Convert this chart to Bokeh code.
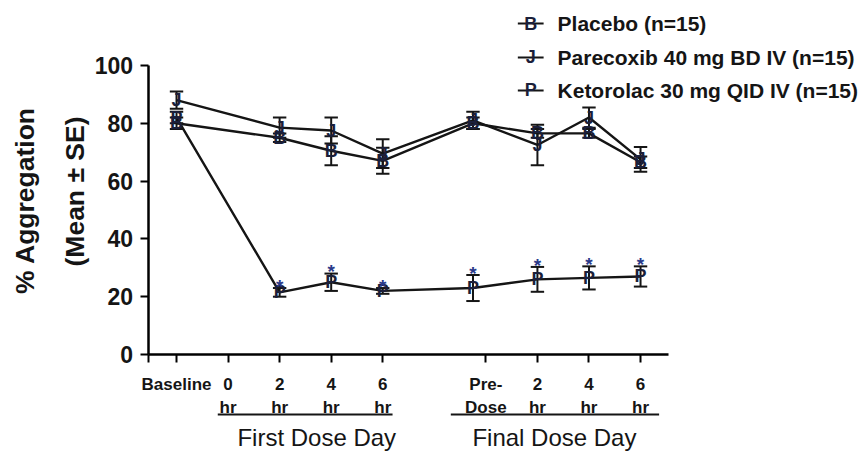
import numpy as np
from bokeh.plotting import figure
from bokeh.models import Range1d, LinearAxis, FixedTicker, Label
from bokeh.core.properties import value
from bokeh.embed import file_html
from bokeh.resources import INLINE

# ---------------- data ----------------
tick_positions = [0, 1, 2, 3, 4, 6, 7, 8, 9]
tick_labels = ["Baseline", "0\nhr", "2\nhr", "4\nhr", "6\nhr", "Pre-\nDose", "2\nhr", "4\nhr", "6\nhr"]
time_x = [0, 2, 3, 4, 5.75, 7, 8, 9]

placebo_mean = [80, 75, 70.5, 67, 80, 76.5, 76.5, 66.5]
placebo_se = [2, 1.5, 5, 4.5, 2, 1.5, 1.5, 2]
parecoxib_mean = [88, 78.5, 77.5, 69.5, 81, 72.5, 82, 67.5]
parecoxib_se = [3, 3.5, 4.5, 5, 3, 7, 3.5, 4.3]
ketorolac_mean = [82, 21.5, 25, 22, 23, 26, 26.5, 27]
ketorolac_se = [2, 1.5, 3, 1, 4.5, 4.3, 4, 3.5]
ketorolac_signif = [False, True, True, True, True, True, True, True]

series_names = ["Placebo (n=15)", "Parecoxib 40 mg BD IV (n=15)", "Ketorolac 30 mg QID IV (n=15)"]
series_symbols = ["B", "J", "P"]

y_ticks = [0, 20, 40, 60, 80, 100]
group_names = ["First Dose Day", "Final Dose Day"]
group_spans = [(0.8, 4.19), (5.32, 9.36)]
group_centers = [2.72, 7.33]

y_title = "% Aggregation"
y_subtitle = "(Mean \u00b1 SE)"

# ---------------- figure ----------------
FONT = value("Liberation Sans")
INK = "#151515"
MARK = "#1b1f3a"

p = figure(width=862, height=452, output_backend="svg", toolbar_location=None,
           x_range=Range1d(-3.414, 13.305), y_range=Range1d(-33.91, 122.49),
           x_axis_type=None, y_axis_type=None, min_border=0,
           outline_line_color=None, background_fill_color="white")
p.grid.visible = False

# axes
yaxis = LinearAxis(fixed_location=-0.55, bounds=(0, 100), ticker=FixedTicker(ticks=y_ticks))
yaxis.major_label_text_font = "Liberation Sans"
yaxis.major_label_text_font_size = "23px"
yaxis.major_label_text_font_style = "bold"
yaxis.major_label_text_color = INK
yaxis.major_tick_out = 8
yaxis.major_tick_in = 0
yaxis.minor_tick_out = 0
yaxis.minor_tick_in = 0
yaxis.major_tick_line_width = 2
yaxis.axis_line_width = 2.5
yaxis.major_label_standoff = 7
p.add_layout(yaxis, "left")

xaxis = LinearAxis(fixed_location=0, bounds=(-0.55, 9.55),
                   ticker=FixedTicker(ticks=[-0.55] + tick_positions))
overrides = {-0.55: ""}
for t, lab in zip(tick_positions, tick_labels):
    overrides[t] = lab
xaxis.major_label_overrides = overrides
xaxis.major_label_text_font = "Liberation Sans"
xaxis.major_label_text_font_size = "17px"
xaxis.major_label_text_font_style = "bold"
xaxis.major_label_text_color = INK
xaxis.major_tick_out = 8
xaxis.major_tick_in = 0
xaxis.minor_tick_out = 0
xaxis.minor_tick_in = 0
xaxis.major_tick_line_width = 2
xaxis.axis_line_width = 2.5
xaxis.major_label_standoff = 13
p.add_layout(xaxis, "below")

# series
x = np.array(time_x, dtype=float)
series = [
    (np.array(placebo_mean), np.array(placebo_se)),
    (np.array(parecoxib_mean), np.array(parecoxib_se)),
    (np.array(ketorolac_mean), np.array(ketorolac_se)),
]
cap = 0.13
for (m, s) in series:
    p.line(x, m, line_width=2.4, line_color=INK)
for (m, s) in series:
    p.segment(x0=x, y0=m - s, x1=x, y1=m + s, line_width=2, line_color=INK)
    p.segment(x0=x - cap, y0=m + s, x1=x + cap, y1=m + s, line_width=2, line_color=INK)
    p.segment(x0=x - cap, y0=m - s, x1=x + cap, y1=m - s, line_width=2, line_color=INK)
for (m, s), sym in zip(series, series_symbols):
    p.text(x=x, y=m, text=[sym] * len(x), text_font=FONT, text_font_style="bold",
           text_font_size="18px", text_color=MARK, text_align="center", text_baseline="middle")

# significance stars
km = np.array(ketorolac_mean)
ks = np.array(ketorolac_se)
sig = np.array(ketorolac_signif)
p.text(x=x[sig], y=(km + ks)[sig] + 0.6, text=["*"] * int(sig.sum()), text_font=FONT,
       text_font_style="bold", text_font_size="19px", text_color="#2a3a8a",
       text_align="center", text_baseline="middle")

# group brackets and labels
for (a, b) in group_spans:
    p.segment(x0=[a], y0=[-20.76], x1=[b], y1=[-20.76], line_width=2, line_color=INK)
p.text(x=group_centers, y=[-28.6] * len(group_names), text=group_names, text_font=FONT,
       text_font_size="24px", text_color=INK, text_align="center", text_baseline="middle")

# y-axis titles
p.add_layout(Label(x=-2.93, y=53.3, text=y_title, angle=np.pi / 2, text_font="Liberation Sans",
                   text_font_style="bold", text_font_size="26.5px", text_color=INK,
                   text_align="center", text_baseline="middle"))
p.add_layout(Label(x=-1.96, y=56.4, text=y_subtitle, angle=np.pi / 2, text_font="Liberation Sans",
                   text_font_style="bold", text_font_size="26.5px", text_color=INK,
                   text_align="center", text_baseline="middle"))

# legend
leg_rows = [114.5, 102.8, 91.35]
p.segment(x0=[6.62] * 3, y0=leg_rows, x1=[7.12] * 3, y1=leg_rows, line_width=2, line_color=INK)
p.text(x=[6.87] * 3, y=leg_rows, text=series_symbols, text_font=FONT, text_font_style="bold",
       text_font_size="18px", text_color=MARK, text_align="center", text_baseline="middle")
p.text(x=[7.39] * 3, y=leg_rows, text=series_names, text_font=FONT, text_font_style="bold",
       text_font_size="21px", text_color=INK, text_align="left", text_baseline="middle")

open("out.html", "w").write(file_html(p, INLINE))
